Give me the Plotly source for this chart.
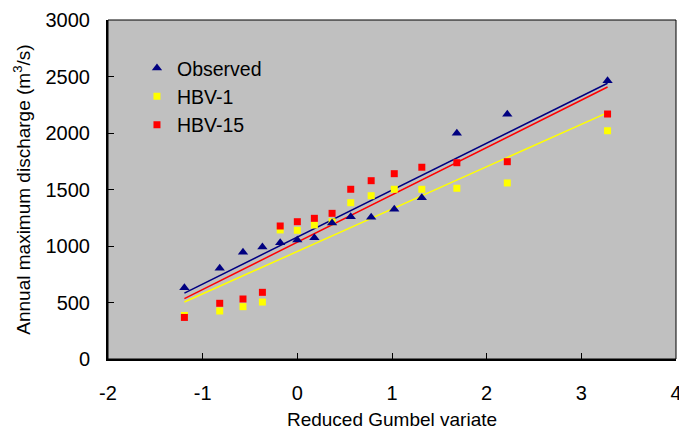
import numpy as np
import plotly.graph_objects as go

# Reduced Gumbel variate (plotting positions)
gumbel_x = [-1.193, -0.820, -0.574, -0.369, -0.181, 0.000, 0.180, 0.367,
            0.564, 0.780, 1.024, 1.315, 1.685, 2.218, 3.277]

observed = [631, 803, 944, 991, 1029, 1053, 1074, 1204, 1258, 1255,
            1325, 1428, 1997, 2166, 2463]
hbv_1 = [385, 425, 463, 504, 1142, 1139, 1186, 1215, 1383, 1445,
         1502, 1502, 1511, 1558, 2020]
hbv_15 = [368, 493, 531, 590, 1177, 1215, 1245, 1289, 1502, 1578,
          1640, 1697, 1737, 1746, 2168]

x_ticks = [-2, -1, 0, 1, 2, 3, 4]
y_ticks = [0, 500, 1000, 1500, 2000, 2500, 3000]

FONT = "Liberation Sans, Arial, sans-serif"

fig = go.Figure()

series = [
    ("Observed", observed, "#000080", "triangle-up", 9),
    ("HBV-1", hbv_1, "#ffff00", "square", 7),
    ("HBV-15", hbv_15, "#ff0000", "square", 7),
]

xs = np.array(gumbel_x)
x_line = [min(gumbel_x), max(gumbel_x)]

# trendlines (least squares), drawn below markers
for name, vals, color, sym, sz in series[::-1]:
    k, b = np.polyfit(xs, np.array(vals), 1)
    fig.add_trace(go.Scatter(
        x=x_line, y=[k * v + b for v in x_line], mode="lines",
        line=dict(color=color, width=1.5), showlegend=False, hoverinfo="skip"))

order = [series[1], series[2], series[0]]
for name, vals, color, sym, sz in order:
    fig.add_trace(go.Scatter(
        x=gumbel_x, y=vals, mode="markers", name=name,
        legendrank={"Observed": 1, "HBV-1": 2, "HBV-15": 3}[name],
        marker=dict(symbol=sym, size=sz, color=color, line=dict(width=0))))

fig.update_layout(
    width=679, height=430,
    margin=dict(l=108, r=3, t=20, b=71, autoexpand=False),
    paper_bgcolor="white", plot_bgcolor="#c0c0c0",
    font=dict(family=FONT, size=20, color="black"),
    legend=dict(x=0.051, y=0.915, xanchor="left", yanchor="top",
                bgcolor="rgba(0,0,0,0)", borderwidth=0,
                font=dict(size=19.5), itemwidth=30),
    xaxis=dict(range=[-2, 4], tickvals=x_ticks, ticktext=[str(v) for v in x_ticks],
               showgrid=False, zeroline=False, showline=True, linecolor="black",
               linewidth=2, ticks="inside", ticklen=6, tickcolor="black",
               ticklabelstandoff=15, automargin=False, ticklabeloverflow="allow",
               title=dict(text="Reduced Gumbel variate", standoff=14,
                          font=dict(size=19))),
    yaxis=dict(range=[0, 3000], tickvals=y_ticks, ticktext=[str(v) for v in y_ticks],
               showgrid=False, zeroline=False, showline=True, linecolor="black",
               linewidth=2, ticks="inside", ticklen=6, tickcolor="black",
               ticklabelstandoff=12, automargin=False, ticklabeloverflow="allow",
               title=dict(text="Annual maximum discharge (m<sup>3</sup>/s)",
                          standoff=10, font=dict(size=19))),
    shapes=[dict(type="rect", xref="paper", yref="paper", x0=0, y0=0, x1=1, y1=1,
                 line=dict(color="black", width=1), fillcolor="rgba(0,0,0,0)",
                 layer="above")],
)

fig.write_html("out.html",
               config={"displayModeBar": False},
               post_script="document.body.style.margin='0px';"
                           "document.body.style.overflow='hidden';")
